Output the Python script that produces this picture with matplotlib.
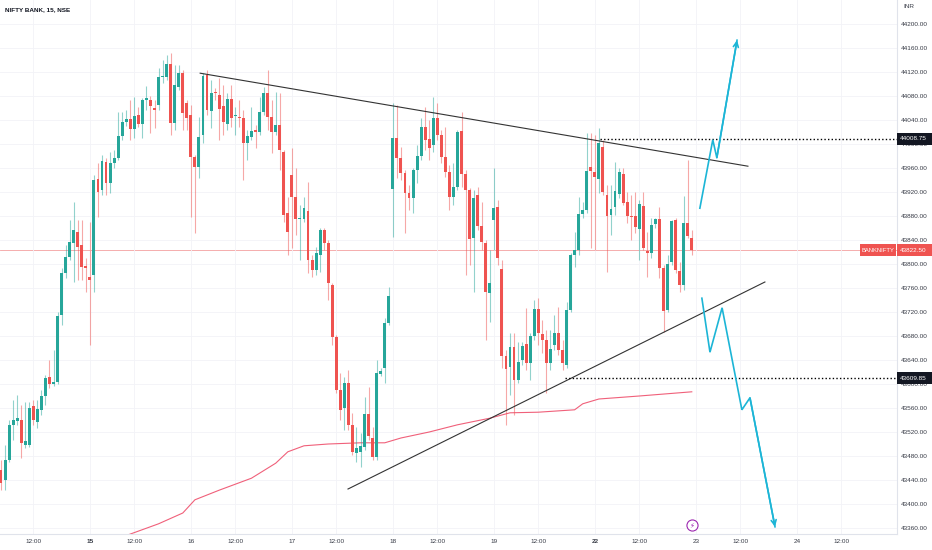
import numpy as np
import matplotlib
matplotlib.use("Agg")
import matplotlib.pyplot as plt
from matplotlib.patches import Rectangle
import matplotlib.transforms as mtransforms

plt.rcParams['font.family'] = ['Liberation Sans', 'DejaVu Sans']

# ---------------- data (15-min candles, NIFTY BANK) ----------------
opens = [
 43457,43440,43473,43532,43538,43540,43498,43498,43563,43537,43557,43580,43612,43600,43603,43715,43785,43812,43835,43853,43832,43797,
 43778,43782,43942,43923,43970,43935,43968,43977,44013,44037,44042,44025,44048,44033,44073,44073,44060,44065,44112,44112,44133,44035,44095,44118,44068,
 44048,43978,43962,44015,44115,44055,44087,44082,44063,44033,44075,44047,44045,44043,44002,44012,44023,44020,44053,44085,44045,44020,44032,43987,43885,
 43948,43912,43875,43875,43888,43807,43790,43815,43857,43835,43765,43678,43590,43560,43602,43532,43485,43487,43495,43550,43510,43478,43617,43627,43702,
 43925,44010,43977,43952,43918,43910,43957,43980,44028,44008,43998,44043,44015,43978,43953,43912,43928,44022,43950,43923,43843,43915,43863,43835,43752,
 43873,43895,43792,43647,43628,43662,43607,43640,43667,43635,43680,43725,43683,43673,43635,43665,43685,43657,43632,43723,43815,43823,43883,43890,43962,
 43953,43942,43995,43915,43882,43895,43917,43950,43903,43880,43880,43858,43897,43822,43818,43867,43875,43793,43723,43803,43873,43788,43765,43868,43843]
highs = [
 43473,43498,43540,43573,43582,43565,43570,43570,43573,43573,43590,43615,43640,43657,43720,43793,43832,43873,43903,43873,43873,43810,
 43870,43948,43968,43982,43977,43987,43990,44053,44053,44057,44073,44078,44062,44077,44097,44080,44073,44127,44140,44148,44152,44132,44132,44123,44073,
 44065,43982,44045,44118,44123,44107,44093,44110,44098,44085,44098,44062,44073,44057,44023,44062,44032,44078,44095,44123,44073,44087,44085,43990,43912,
 43993,43960,43898,43912,43937,43815,43828,43860,43860,43840,43768,43682,43618,43612,43623,43552,43528,43518,43578,43595,43528,43640,43627,43710,43762,
 44068,44065,43995,43957,43932,43960,43998,44043,44062,44040,44078,44068,44023,44028,43965,43968,44023,44053,43957,43927,43923,43928,43903,43840,43823,
 43960,43907,43807,43657,43685,43685,43670,43670,43727,43685,43740,43743,43707,43690,43690,43715,43728,43673,43737,43818,43853,43912,43903,44018,44018,
 44015,44027,44007,43932,43932,43970,43960,43960,43920,43915,43920,43907,43920,43853,43877,43877,43895,43798,43815,43873,43877,43803,43913,43973,43857]
lows = [
 43423,43423,43470,43507,43532,43477,43493,43495,43532,43527,43548,43565,43593,43597,43600,43698,43777,43807,43770,43773,43773,43753,
 43665,43753,43878,43915,43915,43918,43960,43973,44007,44030,44007,44010,44028,44010,44057,44018,44027,44057,44102,44107,44015,44023,44090,44023,44023,
 43878,43852,43943,44002,44048,44027,44073,44007,44015,44023,44028,44015,44028,43940,43973,44007,43993,44015,44048,44023,43985,44015,43957,43870,43815,
 43827,43848,43807,43870,43785,43778,43782,43787,43823,43740,43665,43585,43540,43523,43523,43482,43470,43462,43490,43507,43473,43473,43613,43602,43698,
 43845,43943,43940,43852,43890,43885,43935,43973,43990,43973,43987,44007,43968,43945,43890,43898,43923,43928,43782,43798,43753,43857,43823,43673,43703,
 43823,43798,43627,43532,43582,43548,43602,43632,43623,43607,43673,43665,43652,43585,43623,43657,43648,43623,43627,43720,43795,43815,43877,43885,43827,
 43823,43918,43915,43787,43848,43882,43910,43898,43868,43840,43852,43807,43823,43778,43810,43860,43777,43687,43720,43798,43785,43753,43757,43843,43815]
closes = [
 43435,43473,43532,43540,43543,43502,43505,43560,43540,43558,43580,43610,43600,43603,43713,43785,43812,43837,43857,43828,43795,43793,
 43773,43940,43920,43972,43935,43968,43977,44013,44037,44042,44025,44047,44033,44073,44077,44063,44057,44112,44113,44133,44035,44098,44118,44052,44043,
 43978,43962,44012,44113,44057,44085,44085,44058,44037,44075,44043,44048,44043,44002,44013,44022,44020,44053,44085,44045,44020,44032,43990,43882,43853,
 43912,43875,43877,43893,43807,43790,43818,43857,43835,43768,43678,43590,43557,43602,43532,43487,43493,43497,43550,43513,43478,43618,43622,43702,43747,
 44010,43977,43952,43918,43910,43957,43980,44028,44007,43993,44043,44015,43978,43953,43912,43928,44020,43950,43923,43842,43910,43863,43837,43753,43768,
 43893,43810,43647,43625,43662,43607,43637,43663,43635,43680,43725,43685,43673,43635,43658,43685,43657,43635,43723,43815,43823,43883,43890,43955,43955,
 43945,44002,43920,43880,43892,43922,43953,43902,43880,43878,43862,43900,43827,43818,43865,43875,43793,43722,43800,43872,43790,43765,43868,43847,43822.5]

# moving average (bar index, value)
ma_bars = [30, 39, 45, 48, 54, 62, 68, 71, 75, 81, 89, 95, 99, 106, 113, 121, 126, 133, 142, 144, 148, 158, 171]
ma_vals = [43345, 43367, 43385, 43407, 43423, 43443, 43468, 43487, 43497, 43500, 43502, 43502, 43510, 43520,
           43532, 43543, 43552, 43553, 43557, 43567, 43575, 43580, 43587]

# session days shown on the time axis; first session partially visible
day_labels = ["14", "15", "16", "17", "18", "19", "22", "23", "24"]
week_start_days = ["15", "22"]
bars_per_day = 25
first_day_start = -3
noon_offset = 11

# drawings
upper_trend = [(49.3, 44118), (184.9, 43963)]
lower_trend = [(85.9, 43425), (189.1, 43770)]
levels = [44008.75, 43609.85]
level_starts = [148.3, 139.6]
up_path_bars = [173.0, 176.2, 177.2, 182.2]
up_path_vals = [43893, 44007, 43977, 44173]
dn_path_bars = [173.5, 175.5, 178.5, 183.4, 185.4, 191.6]
dn_path_vals = [43743, 43653, 43727, 43557, 43577, 43362]

symbol = "BANKNIFTY"
title = "NIFTY BANK, 15, NSE"

# ---------------- figure ----------------
UP, DN = "#26a69a", "#ef5350"
FS = 4.6
fig = plt.figure(figsize=(9.32, 5.5), dpi=100)
fig.patch.set_facecolor("white")
ax = fig.add_axes([0, 16 / 550, 897 / 932, 534 / 550])
ax.set_facecolor("white")

o = np.array(opens, float); h = np.array(highs, float)
l = np.array(lows, float); c = np.array(closes, float)
idx = np.arange(len(c))
isup = c >= o
body_col = np.where(isup, UP, DN)

ax.vlines(idx, l, h, colors=body_col, lw=0.8, alpha=0.5, zorder=3)
ax.bar(idx, np.maximum(np.abs(c - o), 1.5), bottom=np.minimum(o, c), width=0.72,
       color=body_col, linewidth=0, zorder=4)

ax.plot(ma_bars, ma_vals, color="#f0607a", lw=0.8, zorder=2)

ax.set_xlim(-0.25, 221.8)
ax.set_ylim(43350, 44240)

# grid / ticks
yt = np.arange(43360, 44201, 40)
ax.set_yticks(yt)
ax.set_yticklabels([f"{v:.2f}" for v in yt])
ax.yaxis.tick_right()
xt, xl = [], []
for k, d in enumerate(day_labels):
    s = first_day_start + k * bars_per_day
    if s >= 0:
        xt.append(s); xl.append(d)
    xt.append(s + noon_offset); xl.append("12:00")
ax.set_xticks(xt)
ax.set_xticklabels(xl)
for lab in ax.get_xticklabels():
    if lab.get_text() in week_start_days:
        lab.set_fontweight("bold")
ax.tick_params(axis="both", length=0, labelsize=FS, colors="#363a45")
ax.tick_params(axis="y", pad=3)
ax.tick_params(axis="x", pad=3.5)
ax.grid(True, color="#f2f3f7", lw=0.6, zorder=0)
for s in ["top", "left"]:
    ax.spines[s].set_visible(False)
for s in ["bottom", "right"]:
    ax.spines[s].set_color("#e0e3eb")
    ax.spines[s].set_linewidth(0.8)

# current price line
last = closes[-1]
ax.axhline(last, color="#f4a0a0", lw=0.6, zorder=1)

# trend lines
for seg in (upper_trend, lower_trend):
    ax.plot([p[0] for p in seg], [p[1] for p in seg], color="#333333", lw=0.8, zorder=5)

# dotted levels
for lv, st in zip(levels, level_starts):
    ax.hlines(lv, st, 221.8, colors="black", lw=1.0, linestyles=(0, (1, 1.6)), zorder=5)

# cyan projections
CY = "#1cb5d6"
for bx, vy in ((up_path_bars, up_path_vals), (dn_path_bars, dn_path_vals)):
    ax.plot(bx, vy, color=CY, lw=1.2, zorder=6, solid_joinstyle="miter")
    ax.annotate("", xy=(bx[-1], vy[-1]), xytext=(bx[-2], vy[-2]),
                arrowprops=dict(arrowstyle="->", color=CY, lw=1.2, mutation_scale=9,
                                shrinkA=0, shrinkB=0), zorder=6)

# price labels on the scale
blend = mtransforms.blended_transform_factory(ax.transAxes, ax.transData)
wpx = 35 / 897
hval = 20
def price_box(val, fc, txt=None):
    ax.add_patch(Rectangle((1.0, val - hval / 2), wpx, hval, transform=blend,
                           facecolor=fc, edgecolor="none", clip_on=False, zorder=10))
    ax.text(1.0 + 3 / 897, val, txt if txt else f"{val:.2f}", transform=blend, color="white",
            fontsize=FS, va="center", ha="left", zorder=11, clip_on=False)

for lv in levels:
    price_box(lv, "#131722")
price_box(last, DN)
ax.add_patch(Rectangle((860 / 897, last - hval / 2), 36 / 897, hval, transform=blend,
                       facecolor=DN, edgecolor="none", clip_on=False, zorder=10))
ax.text(878 / 897, last, symbol, transform=blend, color="white", fontsize=4.2,
        va="center", ha="center", zorder=11)

# event marker
blend_xb = mtransforms.blended_transform_factory(ax.transData, ax.transAxes)
ax.plot([idx[-1]], [0.016], marker="o", ms=8, mfc="white", mec="#9c27b0", mew=0.8,
        transform=blend_xb, zorder=7, clip_on=False)
ax.text(idx[-1], 0.016, "\u26A1", transform=blend_xb, color="#9c27b0", fontsize=5,
        ha="center", va="center", family="DejaVu Sans", zorder=8)

# header texts
fig.text(5 / 932, 1 - 10 / 550, title, fontsize=FS, color="#131722", va="center",
         ha="left", fontweight="bold")
fig.text(903 / 932, 1 - 7 / 550, "INR", fontsize=FS, color="#363a45", va="center", ha="left")

fig.savefig("out.png", dpi=100, facecolor="white")
